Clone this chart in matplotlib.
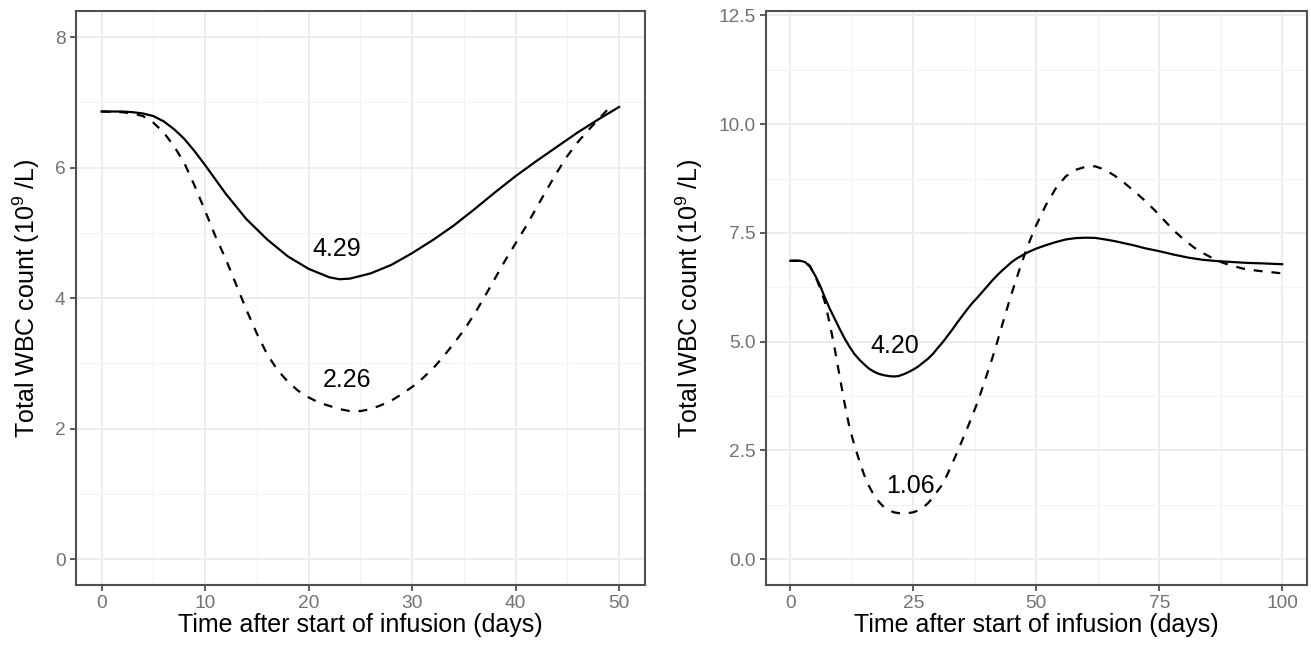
import matplotlib
matplotlib.use("Agg")
import matplotlib.pyplot as plt
from matplotlib.ticker import FixedLocator

plt.rcParams['font.family'] = ['Liberation Sans', 'DejaVu Sans']
plt.rcParams['mathtext.fontset'] = 'custom'
plt.rcParams['mathtext.rm'] = 'Liberation Sans'

# ---- Left panel data ----
left_solid_t = [0, 2, 3, 4, 5, 6, 7, 8, 9, 10, 12, 14, 16, 18, 20, 22, 23, 24, 26, 28, 30, 32, 34, 36, 38, 40, 42, 44, 46, 48, 50]
left_solid_y = [6.86, 6.86, 6.85, 6.83, 6.79, 6.71, 6.59, 6.44, 6.25, 6.04, 5.60, 5.21, 4.90, 4.64, 4.45, 4.32, 4.29, 4.30, 4.38, 4.51, 4.69, 4.89, 5.11, 5.36, 5.62, 5.87, 6.10, 6.32, 6.54, 6.74, 6.93]
left_dash_t = [0, 2, 3, 4, 5, 6, 7, 8, 9, 10, 11, 12, 13, 14, 15, 16, 17, 18, 19, 20, 21, 22, 23, 24, 25, 26, 27, 28, 29, 30, 31, 32, 33, 34, 35, 36, 37, 38, 39, 40, 41, 42, 43, 44, 45, 46, 47, 48, 49, 49.4]
left_dash_y = [6.86, 6.85, 6.83, 6.79, 6.69, 6.54, 6.33, 6.07, 5.72, 5.34, 4.95, 4.60, 4.21, 3.82, 3.46, 3.14, 2.90, 2.72, 2.58, 2.48, 2.40, 2.35, 2.30, 2.27, 2.27, 2.30, 2.36, 2.43, 2.53, 2.64, 2.77, 2.92, 3.10, 3.30, 3.51, 3.75, 4.02, 4.30, 4.58, 4.84, 5.10, 5.38, 5.66, 5.93, 6.18, 6.39, 6.57, 6.74, 6.91, 6.98]

# ---- Right panel data ----
right_solid_t = [0, 2, 3, 4, 5, 6, 7, 8, 9, 10, 11, 12, 13, 14, 15, 16, 17, 18, 19, 20, 21, 22, 23, 24, 25, 26, 27, 28, 29, 30, 31, 32, 33, 34, 35, 36, 37, 38, 39, 40, 41, 42, 43, 44, 45, 46, 48, 50, 52, 54, 56, 58, 60, 62, 64, 66, 68, 70, 72, 75, 78, 81, 84, 87, 90, 93, 96, 100]
right_solid_y = [6.86, 6.86, 6.83, 6.72, 6.53, 6.30, 6.02, 5.76, 5.53, 5.30, 5.08, 4.89, 4.72, 4.59, 4.48, 4.38, 4.31, 4.26, 4.23, 4.21, 4.20, 4.21, 4.25, 4.30, 4.36, 4.43, 4.52, 4.61, 4.72, 4.86, 4.99, 5.14, 5.29, 5.45, 5.60, 5.75, 5.89, 6.01, 6.14, 6.27, 6.40, 6.52, 6.63, 6.73, 6.83, 6.91, 7.04, 7.14, 7.22, 7.29, 7.35, 7.38, 7.39, 7.385, 7.35, 7.31, 7.26, 7.21, 7.15, 7.08, 7.00, 6.93, 6.88, 6.85, 6.83, 6.81, 6.80, 6.78]
right_dash_t = [0, 2, 3, 4, 5, 6, 7, 8, 9, 10, 11, 12, 13, 14, 15, 16, 17, 18, 19, 20, 21, 22, 23, 24, 25, 26, 27, 28, 29, 30, 31, 32, 33, 34, 35, 36, 37, 38, 39, 40, 41, 42, 43, 44, 45, 46, 47, 48, 49, 50, 52, 54, 56, 58, 60, 62, 64, 66, 68, 70, 72, 74, 76, 78, 80, 82, 84, 86, 88, 90, 92, 95, 100]
right_dash_y = [6.86, 6.86, 6.83, 6.74, 6.52, 6.25, 5.92, 5.42, 4.85, 4.22, 3.60, 3.04, 2.63, 2.27, 1.94, 1.68, 1.47, 1.32, 1.20, 1.13, 1.08, 1.06, 1.05, 1.06, 1.08, 1.12, 1.19, 1.29, 1.42, 1.58, 1.73, 1.97, 2.22, 2.48, 2.75, 3.02, 3.30, 3.59, 3.92, 4.26, 4.60, 4.97, 5.36, 5.74, 6.11, 6.46, 6.80, 7.12, 7.41, 7.68, 8.15, 8.53, 8.80, 8.95, 9.02, 9.03, 8.95, 8.81, 8.64, 8.45, 8.25, 8.03, 7.79, 7.55, 7.35, 7.17, 7.03, 6.91, 6.81, 6.74, 6.68, 6.63, 6.57]

left_labels = [(22.7, 4.76, "4.29"), (23.7, 2.75, "2.26")]
right_labels = [(21.2, 4.91, "4.20"), (24.5, 1.68, "1.06")]

left_xticks = [0, 10, 20, 30, 40, 50]
left_yticks = [0, 2, 4, 6, 8]
left_ytick_labels = ["0", "2", "4", "6", "8"]
right_xticks = [0, 25, 50, 75, 100]
right_yticks = [0, 2.5, 5, 7.5, 10, 12.5]
right_ytick_labels = ["0.0", "2.5", "5.0", "7.5", "10.0", "12.5"]

xlabel = "Time after start of infusion (days)"
ylabel = r"Total WBC count ($\mathregular{10^9}$ /L)"

fig = plt.figure(figsize=(13.11, 6.48), dpi=100)
axL = fig.add_axes([0.0577, 0.0967, 0.4343, 0.8863])
axR = fig.add_axes([0.5841, 0.0967, 0.4127, 0.8863])

lw = 1.6
dash = (0, (4, 4))
border = '#505050'


def style(ax, xlim, ylim, xt, yt, ytl, xminor, yminor):
    ax.set_xlim(*xlim)
    ax.set_ylim(*ylim)
    ax.set_xticks(xt)
    ax.set_yticks(yt)
    ax.set_yticklabels(ytl)
    ax.xaxis.set_minor_locator(FixedLocator(xminor))
    ax.yaxis.set_minor_locator(FixedLocator(yminor))
    ax.grid(which='major', color='#EBEBEB', linewidth=1.3, zorder=0)
    ax.grid(which='minor', color='#F3F3F3', linewidth=0.8, zorder=0)
    ax.set_axisbelow(True)
    for s in ax.spines.values():
        s.set_color(border)
        s.set_linewidth(1.5)
    ax.tick_params(which='major', length=4.3, width=1.3, color=border,
                   labelsize=13.8, labelcolor='#727272', pad=3)
    ax.tick_params(which='minor', length=0)
    ax.set_xlabel(xlabel, fontsize=18, labelpad=0.5)
    ax.set_ylabel(ylabel, fontsize=18, labelpad=9.5)


axL.plot(left_solid_t, left_solid_y, color='black', lw=lw, solid_joinstyle='round')
axL.plot(left_dash_t, left_dash_y, color='black', lw=lw, linestyle=dash)
for x, y, s in left_labels:
    axL.text(x, y, s, fontsize=18, ha='center', va='center')
style(axL, (-2.5, 52.5), (-0.4, 8.4), left_xticks, left_yticks, left_ytick_labels,
      [5, 15, 25, 35, 45], [1, 3, 5, 7])

axR.plot(right_solid_t, right_solid_y, color='black', lw=lw, solid_joinstyle='round')
axR.plot(right_dash_t, right_dash_y, color='black', lw=lw, linestyle=dash)
for x, y, s in right_labels:
    axR.text(x, y, s, fontsize=18, ha='center', va='center')
style(axR, (-5, 105), (-0.6, 12.6), right_xticks, right_yticks, right_ytick_labels,
      [12.5, 37.5, 62.5, 87.5], [1.25, 3.75, 6.25, 8.75, 11.25])

fig.savefig("out.png", dpi=100)
